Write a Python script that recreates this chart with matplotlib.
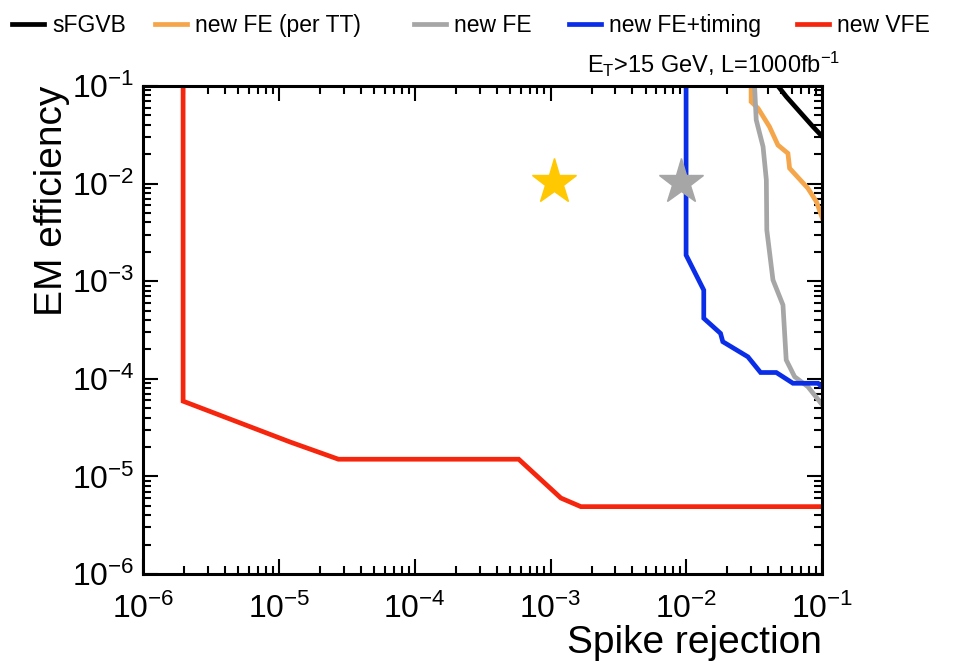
import matplotlib
matplotlib.use("Agg")
import matplotlib.pyplot as plt
from matplotlib.ticker import LogLocator, NullFormatter
import numpy as np

plt.rcParams['font.family'] = ['Liberation Sans', 'DejaVu Sans']
plt.rcParams['mathtext.default'] = 'regular'

# ---- data ----
sfgvb_x = [0.0471, 0.0543, 0.068, 0.0853, 0.1]
sfgvb_y = [0.1, 0.0777, 0.0546, 0.0383, 0.0303]

fe_tt_x = [0.0299, 0.0299, 0.0336, 0.0408, 0.0471, 0.0558, 0.0574, 0.0783, 0.0904, 0.1]
fe_tt_y = [0.1, 0.069, 0.0591, 0.0383, 0.0248, 0.0204, 0.01435, 0.00895, 0.00653, 0.00441]

fe_x = [0.0317, 0.0326, 0.0366, 0.0387, 0.039, 0.0433, 0.0513, 0.0542, 0.0625, 0.0783, 0.1]
fe_y = [0.1, 0.0449, 0.0239, 0.0109, 0.00335, 0.00103, 5.7e-4, 1.56e-4, 1.05e-4, 8.3e-5, 5.4e-5]

fet_x = [0.00993, 0.00993, 0.0134, 0.0134, 0.0178, 0.0185, 0.0283, 0.0351, 0.0458, 0.0608, 0.0929, 0.1]
fet_y = [0.1, 1.85e-3, 8.1e-4, 4.17e-4, 2.92e-4, 2.40e-4, 1.68e-4, 1.16e-4, 1.16e-4, 9.0e-5, 9.0e-5, 8.2e-5]

vfe_x = [1.97e-6, 1.97e-6, 1.21e-5, 2.74e-5, 5.82e-4, 1.19e-3, 1.67e-3, 0.1]
vfe_y = [0.1, 5.9e-5, 2.25e-5, 1.5e-5, 1.5e-5, 6.0e-6, 4.9e-6, 4.9e-6]

star_x = [1.05e-3, 9.1e-3]
star_y = [1.05e-2, 1.05e-2]
star_colors = ['#ffc800', '#a6a6a6']

decades = [1e-6, 1e-5, 1e-4, 1e-3, 1e-2, 1e-1]
decade_labels = [r'$10^{-6}$', r'$10^{-5}$', r'$10^{-4}$', r'$10^{-3}$', r'$10^{-2}$', r'$10^{-1}$']

series_labels = ['sFGVB', 'new FE (per TT)', 'new FE', 'new FE+timing', 'new VFE']
series_x = [sfgvb_x, fe_tt_x, fe_x, fet_x, vfe_x]
series_y = [sfgvb_y, fe_tt_y, fe_y, fet_y, vfe_y]
series_colors = ['#000000', '#f5a54a', '#a6a6a6', '#0a2ee8', '#f5260d']

# legend entry left edges (pixels in figure)
legend_x_px = [12, 155, 414, 569, 797]

fig = plt.figure(figsize=(9.54, 6.68), dpi=100)
ax = fig.add_axes([0.150, 0.1407, 0.712, 0.7306])

handles = []
for label, xs, ys, c in zip(series_labels, series_x, series_y, series_colors):
    h, = ax.plot(xs, ys, color=c, lw=3.4, label=label, solid_joinstyle='miter')
    handles.append(h)

for sx, sy, sc in zip(star_x, star_y, star_colors):
    ax.plot([sx], [sy], marker='*', ms=34, color=sc, mec=sc, ls='none')

ax.set_xscale('log')
ax.set_yscale('log')
ax.set_xlim(1e-6, 1e-1)
ax.set_ylim(1e-6, 1e-1)

for axis in (ax.xaxis, ax.yaxis):
    axis.set_minor_locator(LogLocator(base=10, subs=np.arange(2, 10), numticks=20))
    axis.set_minor_formatter(NullFormatter())
ax.set_xticks(decades)
ax.set_xticklabels(decade_labels)
ax.set_yticks(decades)
ax.set_yticklabels(decade_labels)

ax.tick_params(which='both', direction='in', top=True, right=True, width=1.5, color='black')
ax.tick_params(which='major', length=11, labelsize=23)
ax.tick_params(which='minor', length=5.5)
ax.tick_params(axis='x', which='major', pad=14)
ax.tick_params(axis='y', which='major', pad=6)
for s in ax.spines.values():
    s.set_linewidth(2.2)

ax.set_ylabel('EM efficiency', fontsize=28, loc='top')
ax.yaxis.set_label_coords(-0.107, 1.0)
ax.set_xlabel('Spike rejection', fontsize=28, loc='right')
ax.xaxis.set_label_coords(1.0, -0.105)

fig.text(840 / 954, 1 - 73 / 668, r'$E_T$>15 GeV, L=1000fb$^{-1}$',
         fontsize=17, ha='right', va='baseline')

leg_font = {'family': 'Liberation Sans', 'size': 16.5}
fs_px = leg_font['size'] * 100 / 72
for h, xp in zip(handles, legend_x_px):
    fig.legend(handles=[h], loc='center left', bbox_to_anchor=(xp / 954, 0.962),
               frameon=False, prop=leg_font, handlelength=32 / fs_px,
               handletextpad=8 / fs_px, borderpad=0.0, borderaxespad=0.0)

fig.savefig('out.png', dpi=100)
